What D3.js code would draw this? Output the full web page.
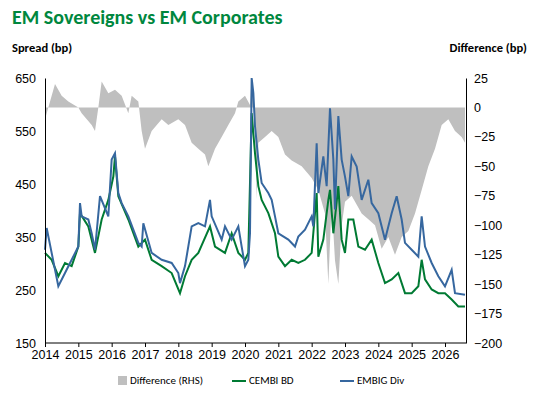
<!DOCTYPE html><html><head><meta charset="utf-8"><script src="https://cdn.jsdelivr.net/npm/d3@7"></script>
<style>body{margin:0;background:#fff;font-family:Calibri,Carlito,"Liberation Sans",Arial,sans-serif}</style></head><body><svg id="c" width="545" height="412"></svg><script>
const embigT=[2014.0,2014.05,2014.4,2014.6,2014.8,2015.0,2015.05,2015.1,2015.3,2015.4,2015.5,2015.65,2015.9,2016.0,2016.1,2016.2,2016.3,2016.5,2016.8,2016.9,2016.95,2017.2,2017.5,2017.8,2018.0,2018.05,2018.2,2018.4,2018.6,2018.8,2018.95,2019.0,2019.3,2019.4,2019.6,2019.8,2019.9,2020.0,2020.1,2020.15,2020.2,2020.25,2020.3,2020.4,2020.5,2020.7,2020.8,2020.9,2021.0,2021.3,2021.5,2021.6,2021.8,2022.0,2022.05,2022.15,2022.2,2022.35,2022.45,2022.55,2022.65,2022.7,2022.8,2022.9,2023.0,2023.1,2023.2,2023.35,2023.5,2023.7,2023.8,2024.0,2024.2,2024.4,2024.55,2024.7,2024.8,2025.0,2025.2,2025.3,2025.4,2025.6,2025.8,2026.0,2026.2,2026.3,2026.6];
const embigV=[326,367,257,282,307,332,414,389,383,357,326,427,389,496,508,433,414,389,339,332,376,320,307,301,282,263,295,370,376,370,420,389,345,370,345,370,332,295,307,357,650,622,559,496,452,433,420,389,357,345,332,351,364,389,370,527,433,502,446,593,496,402,578,496,464,427,502,483,420,458,414,395,345,395,427,383,339,326,313,389,332,301,276,257,288,244,241];
const cembiT=[2014.0,2014.2,2014.4,2014.6,2014.8,2015.0,2015.05,2015.3,2015.5,2015.7,2015.9,2016.05,2016.1,2016.2,2016.5,2016.8,2017.0,2017.2,2017.5,2017.8,2018.05,2018.2,2018.4,2018.6,2018.95,2019.1,2019.4,2019.6,2019.8,2020.0,2020.1,2020.2,2020.3,2020.4,2020.5,2020.7,2020.9,2021.0,2021.2,2021.4,2021.6,2021.8,2022.0,2022.15,2022.2,2022.35,2022.5,2022.55,2022.65,2022.8,2022.9,2023.0,2023.1,2023.25,2023.4,2023.6,2023.8,2024.0,2024.2,2024.4,2024.6,2024.8,2025.0,2025.2,2025.3,2025.4,2025.6,2025.8,2026.0,2026.2,2026.4,2026.6];
const cembiV=[320,307,276,301,295,332,395,370,320,383,420,464,502,427,383,332,345,307,295,282,244,276,307,320,370,332,320,357,320,307,320,584,508,446,420,395,357,313,295,307,301,307,320,433,313,345,420,439,357,446,345,320,383,383,332,326,345,301,263,270,282,244,244,257,307,270,251,244,244,232,219,219];
const diffT=[2014.0,2014.1,2014.3,2014.5,2014.7,2015.0,2015.1,2015.4,2015.5,2015.6,2015.7,2015.9,2016.1,2016.3,2016.5,2016.6,2016.8,2016.9,2017.0,2017.2,2017.5,2017.7,2018.0,2018.2,2018.4,2018.6,2018.8,2018.9,2019.1,2019.3,2019.5,2019.7,2019.8,2020.0,2020.15,2020.2,2020.3,2020.35,2020.4,2020.6,2020.8,2021.0,2021.2,2021.4,2021.7,2022.0,2022.2,2022.4,2022.5,2022.6,2022.7,2022.8,2022.9,2023.0,2023.2,2023.5,2023.7,2023.9,2024.1,2024.3,2024.5,2024.7,2024.9,2025.1,2025.3,2025.5,2025.7,2025.9,2026.1,2026.3,2026.5,2026.6];
const diffV=[-10,0,20,10,5,0,-5,-15,-20,0,22,12,15,10,-5,10,5,-20,-35,-20,-10,-15,-10,-15,-30,-35,-40,-50,-35,-25,-15,-5,5,10,2,25,-10,-78,-30,-25,-20,-25,-40,-45,-50,-60,-70,-90,-150,-80,-130,-150,-100,-80,-75,-90,-95,-100,-120,-110,-125,-110,-105,-90,-70,-50,-35,-15,-10,-20,-25,-30];
const years=[2014,2015,2016,2017,2018,2019,2020,2021,2022,2023,2024,2025,2026];
const leftTicks=[150,250,350,450,550,650];
const rightTicks=[25,0,-25,-50,-75,-100,-125,-150,-175,-200];
const svg=d3.select("#c");
const L=45,R=466,T=78,B=343;
const x=d3.scaleLinear().domain([2014,2026.63]).range([L,R]);
const y=d3.scaleLinear().domain([150,650]).range([B,T]);
const y2=d3.scaleLinear().domain([-200,25]).range([B,T]);
const z=(a,b)=>a.map((t,i)=>[t,b[i]]);
svg.append("path").datum(z(diffT,diffV)).attr("fill","#bfbfbf")
 .attr("d",d3.area().x(d=>x(d[0])).y0(y2(0)).y1(d=>y2(d[1])));
svg.append("path").datum(z(cembiT,cembiV)).attr("fill","none").attr("stroke","#007A33").attr("stroke-width",2)
 .attr("d",d3.line().x(d=>x(d[0])).y(d=>y(d[1])));
svg.append("path").datum(z(embigT,embigV)).attr("fill","none").attr("stroke","#36679F").attr("stroke-width",2)
 .attr("d",d3.line().x(d=>x(d[0])).y(d=>y(d[1])));
const fs="12.5px";
const ax=svg.append("g").attr("transform",`translate(0,${B})`).call(d3.axisBottom(x).tickValues(years).tickFormat(d3.format("d")).tickSize(4));
const axl=svg.append("g").attr("transform",`translate(${L},0)`).call(d3.axisLeft(y).tickValues(leftTicks).tickSize(0).tickPadding(9));
const axr=svg.append("g").attr("transform",`translate(${R},0)`).call(d3.axisRight(y2).tickValues(rightTicks).tickSize(0).tickPadding(8));
[ax,axl,axr].forEach(a=>{a.selectAll("text").style("font-size",fs).attr("fill","#000").style("font-family","inherit");a.selectAll("path,line").attr("stroke","#000");});
ax.select(".domain").attr("d",`M${L},0H${R}`);
svg.append("text").attr("x",12).attr("y",24).text("EM Sovereigns vs EM Corporates").attr("fill","#00873E").style("font-size","20px").style("font-weight","bold");
svg.append("text").attr("x",12).attr("y",52).text("Spread (bp)").style("font-size","12.5px").style("font-weight","bold");
svg.append("text").attr("x",527).attr("y",52).attr("text-anchor","end").text("Difference (bp)").style("font-size","12.5px").style("font-weight","bold");
const lg=svg.append("g").style("font-size","11px");
lg.append("rect").attr("x",118).attr("y",376).attr("width",9).attr("height",9).attr("fill","#bfbfbf");
lg.append("text").attr("x",130).attr("y",384).text("Difference (RHS)");
lg.append("line").attr("x1",232).attr("x2",246).attr("y1",381).attr("y2",381).attr("stroke","#007A33").attr("stroke-width",2);
lg.append("text").attr("x",249).attr("y",384).text("CEMBI BD");
lg.append("line").attr("x1",340).attr("x2",354).attr("y1",381).attr("y2",381).attr("stroke","#36679F").attr("stroke-width",2);
lg.append("text").attr("x",357).attr("y",384).text("EMBIG Div");
</script></body></html>
